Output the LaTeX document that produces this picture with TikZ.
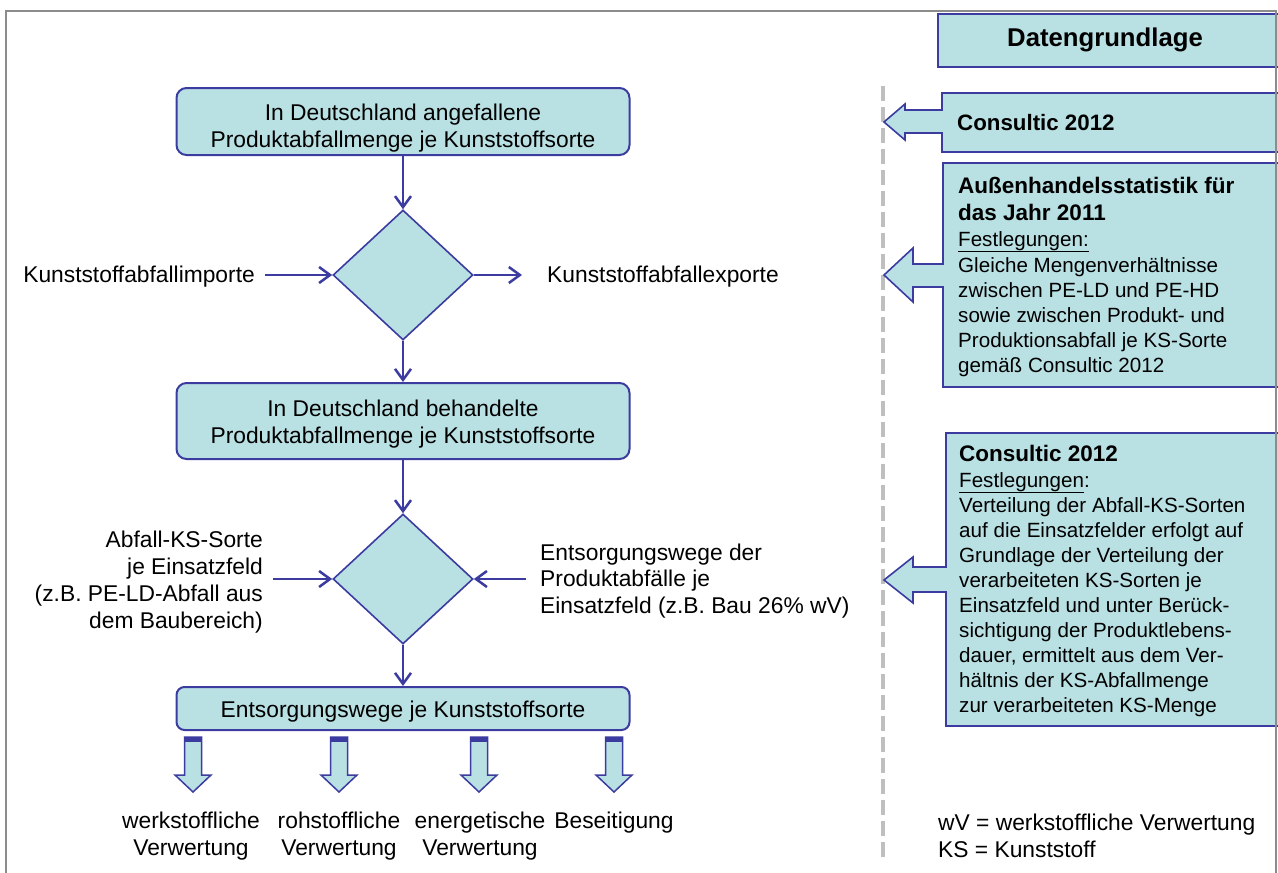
\documentclass[tikz,border=0pt]{standalone}
\usepackage{fontspec}
\setmainfont{Liberation Sans}
\usetikzlibrary{shapes.geometric,arrows.meta}
\definecolor{ublue}{HTML}{3C3CA0}
\definecolor{lteal}{HTML}{B9E0E3}
\definecolor{framegrey}{HTML}{8C8C8C}
\definecolor{dashgrey}{HTML}{BFBFBF}
\newcommand\flowfont{\fontsize{22.8}{27}\selectfont}
\newcommand\hdfont{\bfseries\fontsize{22.5}{26}\selectfont}
\newcommand\bdfont{\fontsize{20.6}{25.1}\selectfont}
\begin{document}
\begin{tikzpicture}[x=1pt,y=-1pt,
  flowbox/.style={draw=ublue, line width=2pt, fill=lteal, rounded corners=10pt,
    minimum width=453pt, minimum height=67pt, inner sep=0pt},
  dia/.style={diamond, draw=ublue, line width=1.6pt, fill=lteal,
    minimum width=140pt, minimum height=130pt, inner sep=0pt},
  flow/.style={draw=ublue, line width=2.5pt, -{Straight Barb[length=11pt,width=16pt]}},
  txt/.style={inner sep=0pt, font=\flowfont},
  hd/.style={inner sep=0pt, font=\hdfont, anchor=base west},
  bd/.style={inner sep=0pt, font=\bdfont, anchor=base west},
  callout/.style={draw=ublue, line width=1.6pt, fill=lteal, line join=miter},
  blockarrow/.style={draw=ublue, line width=1.5pt, fill=lteal, line join=miter}]
\useasboundingbox (0,0) rectangle (1278,873);
\fill[white] (0,0) rectangle (1278,873);

% dashed separator
\draw[dashgrey, line width=4pt, dash pattern=on 15pt off 6pt] (883,86) -- (883,862);

% ---------- left flow ----------
\node[flowbox] (b1) at (403,121.5) {};
\node[txt, align=center, anchor=north] (t1) at (403,103.4)
  {In Deutschland angefallene\\Produktabfallmenge je Kunststoffsorte};

\node[dia] (d1) at (403,275) {};
\draw[flow] (b1.south) -- (d1.north);

\node[txt, anchor=base east] (imp) at (255,282) {Kunststoffabfallimporte};
\node[txt, anchor=base west] (exp) at (547,282) {Kunststoffabfallexporte};
\draw[flow, shorten <=10pt] (imp.east |- d1.west) -- (d1.west);
\draw[flow, shorten >=25pt] (d1.east) -- (d1.east -| exp.west);

\node[flowbox, minimum height=76pt] (b2) at (403,421) {};
\node[txt, align=center, anchor=north] (t2) at (403,399.4)
  {In Deutschland behandelte\\Produktabfallmenge je Kunststoffsorte};
\draw[flow] (d1.south) -- (b2.north);

\node[dia] (d2) at (403,579) {};
\draw[flow] (b2.south) -- (d2.north);

\node[txt, align=right, anchor=north east] (lt) at (263,530.4)
  {Abfall-KS-Sorte\\je Einsatzfeld\\(z.B. PE-LD-Abfall aus\\dem Baubereich)};
\node[txt, align=left, anchor=north west, font=\fontsize{22.8}{26.5}\selectfont] (rt) at (540,543.4)
  {Entsorgungswege der\\Produktabfälle je\\Einsatzfeld (z.B. Bau 26\% wV)};
\draw[flow, shorten <=10pt] (lt.east |- d2.west) -- (d2.west);
\draw[flow, shorten <=14pt] (rt.west |- d2.east) -- (d2.east);

\node[flowbox, minimum height=43pt, rounded corners=8pt] (b3) at (403,708.5) {};
\node[txt, anchor=base] (t3) at (403,717) {Entsorgungswege je Kunststoffsorte};
\draw[flow] (d2.south) -- (b3.north);

% block arrows
\foreach \cx in {193,339,479,614} {
  \draw[blockarrow] (\cx-8.5,737) -- (\cx+8.5,737) -- (\cx+8.5,775) -- (\cx+18,775)
    -- (\cx,792) -- (\cx-18,775) -- (\cx-8.5,775) -- cycle;
  \fill[ublue] (\cx-8.5,737) rectangle (\cx+8.5,742);
}
\node[txt, align=center, anchor=north] (o1) at (191,811.4) {werkstoffliche\\Verwertung};
\node[txt, align=center, anchor=north] (o2) at (339,811.4) {rohstoffliche\\Verwertung};
\node[txt, align=center, anchor=north] (o3) at (480,811.4) {energetische\\Verwertung};
\node[txt, anchor=base] (o4) at (614,828) {Beseitigung};

% ---------- right side ----------
\node[draw=ublue, line width=1.6pt, fill=lteal, minimum width=343pt, minimum height=53pt,
  inner sep=0pt, anchor=north west] (dg) at (937,13) {};
\node[inner sep=0pt, anchor=base, font=\bfseries\fontsize{25.7}{30}\selectfont] (dgt) at (1105,46) {Datengrundlage};

% callout 1
\draw[callout] (1285,93) -- (942,93) -- (942,110) -- (905,110) -- (905,104) -- (884,122)
  -- (905,140) -- (905,133) -- (942,133) -- (942,152) -- (1285,152) -- cycle;
\node[hd, font=\bfseries\fontsize{22.3}{26}\selectfont] (c1) at (957,130) {Consultic 2012};

% callout 2
\draw[callout] (1285,163) -- (943,163) -- (943,264) -- (913,264) -- (913,248) -- (884,275)
  -- (913,302) -- (913,287) -- (943,287) -- (943,387) -- (1285,387) -- cycle;
\node[hd] (c2a) at (958,193) {Außenhandelsstatistik für};
\node[hd] (c2b) at (958,220) {das Jahr 2011};
\node[bd] (c2c) at (958,246) {\underline{Festlegungen:}};
\node[bd] (c2d) at (958,272) {Gleiche Mengenverhältnisse};
\node[bd] (c2e) at (958,297) {zwischen PE-LD und PE-HD};
\node[bd] (c2f) at (958,322) {sowie zwischen Produkt- und};
\node[bd] (c2g) at (958,347) {Produktionsabfall je KS-Sorte};
\node[bd] (c2h) at (958,372) {gemäß Consultic 2012};

% callout 3
\draw[callout] (1285,433) -- (946,433) -- (946,567) -- (913,567) -- (913,557) -- (884,580)
  -- (913,603) -- (913,592) -- (946,592) -- (946,726) -- (1285,726) -- cycle;
\node[hd] (c3a) at (959,461) {Consultic 2012};
\node[bd] (c3b) at (959,487) {\underline{Festlegungen}:};
\foreach \ln [count=\k from 0] in {
  {Verteilung der Abfall-KS-Sorten},
  {auf die Einsatzfelder erfolgt auf},
  {Grundlage der Verteilung der},
  {verarbeiteten KS-Sorten je},
  {Einsatzfeld und unter Berück-},
  {sichtigung der Produktlebens-},
  {dauer, ermittelt aus dem Ver-},
  {hältnis der KS-Abfallmenge},
  {zur verarbeiteten KS-Menge}} {
  \node[bd] (c3l\k) at (959,512+25.1*\k) {\ln};
}

% legend
\node[txt, anchor=base west] (lg1) at (938,830) {wV = werkstoffliche Verwertung};
\node[txt, anchor=base west] (lg2) at (938,857) {KS = Kunststoff};

% outer frame
\draw[framegrey, line width=2pt] (6,880) -- (6,11) -- (1276,11) -- (1276,880);
\end{tikzpicture}
\end{document}
